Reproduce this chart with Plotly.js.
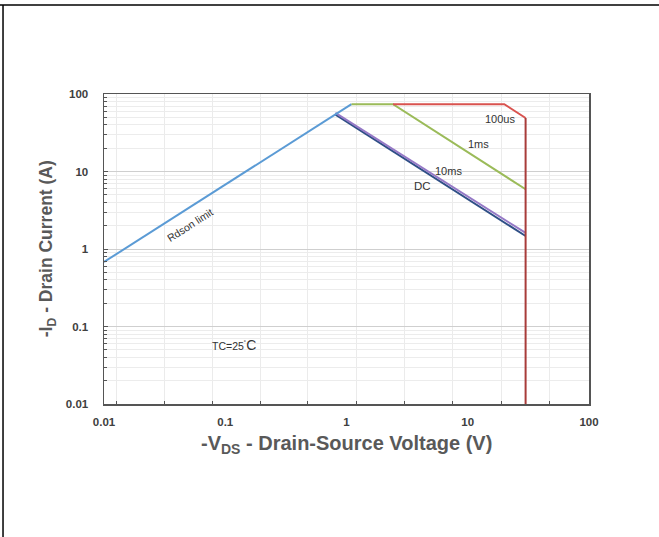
<!DOCTYPE html>
<html>
<head>
<meta charset="utf-8">
<script src="https://cdn.plot.ly/plotly-3.0.1.min.js"></script>
<style>html,body{margin:0;padding:0;background:#fff;}#chart{width:659px;height:537px;}</style>
</head>
<body>
<div id="chart"></div>
<script>
// Safe operating area data
const rdsonV = [0.01, 1.1];
const rdsonI = [0.68, 74];
const ms1V = [1.1, 2.42, 30];
const ms1I = [74, 74, 5.9];
const us100V = [2.42, 20, 30];
const us100I = [74, 74, 49];
const limitV = [30, 30];
const limitI = [49, 0.01];
const ms10V = [0.81, 30];
const ms10I = [57, 1.61];
const dcV = [0.80, 30];
const dcI = [55, 1.47];

const xTickVals = [0.01, 0.1, 1, 10, 100];
const xTickText = ['0.01', '0.1', '1', '10', '100'];
const yTickVals = [0.01, 0.1, 1, 10, 100];
const yTickText = ['0.01', '0.1', '1', '10', '100'];
const xGridVals = [0.01256, 0.0313, 0.0778, 0.1937, 0.481, 1.22, 3.03, 7.55, 19.1, 47.6];

const FONT = 'Liberation Sans, Arial, sans-serif';

const traces = [
  {x: dcV, y: dcI, mode: 'lines', line: {color: '#2f4f86', width: 2}, name: 'DC'},
  {x: ms10V, y: ms10I, mode: 'lines', line: {color: '#9579c6', width: 2}, name: '10ms'},
  {x: rdsonV, y: rdsonI, mode: 'lines', line: {color: '#5b9bd5', width: 2}, name: 'Rdson'},
  {x: ms1V, y: ms1I, mode: 'lines', line: {color: '#9bbb59', width: 2}, name: '1ms'},
  {x: us100V, y: us100I, mode: 'lines', line: {color: '#d9534f', width: 2}, name: '100us'},
  {x: limitV, y: limitI, mode: 'lines', line: {color: '#a83c3a', width: 2}, name: 'limit'}
];

const tickFont = {family: FONT, size: 11.5, color: '#404040', weight: 'bold'};
const noteFont = {family: FONT, size: 11, color: '#333333'};

const layout = {
  width: 659, height: 537,
  margin: {l: 104, r: 70, t: 94, b: 133},
  paper_bgcolor: '#ffffff', plot_bgcolor: '#ffffff',
  showlegend: false,
  xaxis: {
    type: 'log', range: [-2, 2],
    tickvals: xTickVals, ticktext: xTickText,
    showgrid: false, ticks: '', tickfont: tickFont,
    ticklabelstandoff: 7,
    showline: true, linecolor: '#555555', linewidth: 1.5, mirror: true,
    zeroline: false,
    minor: {tickmode: 'array', tickvals: xGridVals, showgrid: true, gridcolor: '#ebebeb', gridwidth: 1, ticks: 'inside', ticklen: 3, tickcolor: '#555555'}
  },
  yaxis: {
    type: 'log', range: [-2, 2],
    tickvals: yTickVals, ticktext: yTickText,
    showgrid: true, gridcolor: '#cfcfcf', gridwidth: 1,
    ticks: 'inside', ticklen: 4, tickcolor: '#555555',
    tickfont: tickFont, ticklabelstandoff: 12,
    showline: true, linecolor: '#555555', linewidth: 1.5, mirror: true,
    zeroline: false,
    minor: {dtick: 'D1', showgrid: true, gridcolor: '#ececec', gridwidth: 1, ticks: 'inside', ticklen: 3, tickcolor: '#555555'}
  },
  shapes: [
    {type: 'line', xref: 'paper', yref: 'paper', x0: -0.2155, x1: 1.2, y0: 1.287, y1: 1.287, line: {color: '#000000', width: 1.5}},
    {type: 'line', xref: 'paper', yref: 'paper', x0: -0.2082, x1: -0.2082, y0: 1.287, y1: -0.45, line: {color: '#000000', width: 1.5}}
  ],
  annotations: [
    {xref: 'paper', yref: 'paper', x: 0.5, y: -0.131, xanchor: 'center', yanchor: 'middle', showarrow: false,
     text: '-V<sub>DS</sub> - Drain-Source Voltage (V)', font: {family: FONT, size: 20, color: '#595959', weight: 'bold'}},
    {xref: 'paper', yref: 'paper', x: -0.117, y: 0.5, xanchor: 'center', yanchor: 'middle', showarrow: false, textangle: -90,
     text: '-I<sub>D</sub> - Drain Current (A)', font: {family: FONT, size: 17.5, color: '#595959', weight: 'bold'}},
    {x: Math.log10(0.051), y: Math.log10(2.04), showarrow: false, textangle: -32.6,
     text: 'Rdson limit', font: {family: FONT, size: 10.5, color: '#333333'}},
    {x: Math.log10(18.5), y: Math.log10(47.6), showarrow: false, text: '100us', font: noteFont},
    {x: Math.log10(12.2), y: Math.log10(22.6), showarrow: false, text: '1ms', font: noteFont},
    {x: Math.log10(7.0), y: Math.log10(10.1), showarrow: false, text: '10ms', font: noteFont},
    {x: Math.log10(4.2), y: Math.log10(6.5), showarrow: false, text: 'DC', font: {family: FONT, size: 11.5, color: '#333333'}},
    {x: Math.log10(0.118), y: Math.log10(0.0577), showarrow: false,
     text: 'TC=25<sup>˚</sup><span style="font-size:14px">C</span>', font: {family: FONT, size: 10.5, color: '#333333'}}
  ]
};

Plotly.newPlot('chart', traces, layout, {displayModeBar: false, staticPlot: true});
</script>
</body>
</html>
